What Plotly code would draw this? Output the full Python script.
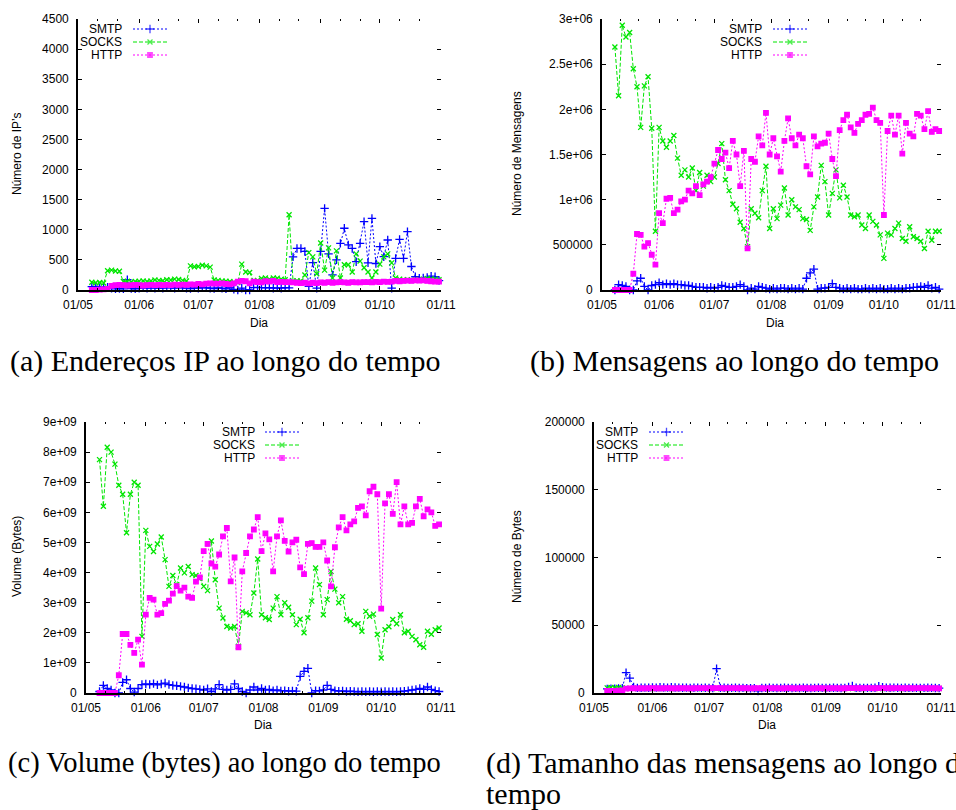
import pandas as pd
import plotly.graph_objects as go

W, H = 956, 810

# Sampling dates: every other day, 8 May - 31 Oct
dias = pd.date_range("2010-05-08", "2010-10-31", freq="2D")

meses = ["2010-05-01", "2010-06-01", "2010-07-01", "2010-08-01",
         "2010-09-01", "2010-10-01", "2010-11-01"]
meses_txt = ["01/05", "01/06", "01/07", "01/08", "01/09", "01/10", "01/11"]
subdiv = ["2010-05-11", "2010-05-21", "2010-06-11", "2010-06-21",
          "2010-07-11", "2010-07-21", "2010-08-11", "2010-08-21",
          "2010-09-11", "2010-09-21", "2010-10-11", "2010-10-21"]

series_nomes = ["SMTP", "SOCKS", "HTTP"]

# (a) number of distinct IPs
ip_smtp = [55, 60, 40, 50, 45, 30, 20, 25, 20, 170,
           25, 20, 30, 35, 30, 40, 30, 35, 30, 40,
           35, 30, 40, 35, 30, 25, 35, 30, 40, 35,
           30, 25, 35, 30, 20, 40, 10, 0, 30, 0,
           0, 40, 45, 40, 35, 40, 30, 35, 30, 40,
           35, 550, 690, 690, 640, 60, 455, 30, 640, 1355,
           600, 250, 500, 775, 1025, 750, 690, 470, 775, 1135,
           450, 1190, 440, 720, 553, 830, 30, 525, 840, 525,
           970, 390, 220, 195, 200, 210, 230, 220, 155]
ip_socks = [130, 120, 125, 115, 320, 330, 315, 310, 140, 145,
            135, 140, 145, 150, 140, 150, 165, 160, 155, 170,
            165, 180, 175, 160, 150, 400, 385, 390, 410, 400,
            380, 165, 160, 150, 145, 140, 130, 125, 430, 300,
            290, 150, 160, 190, 200, 180, 200, 195, 180, 170,
            1250, 150, 155, 150, 250, 620, 550, 270, 780, 330,
            700, 200, 650, 200, 420, 420, 300, 600, 480, 370,
            300, 200, 300, 430, 550, 600, 450, 200, 180, 170,
            170, 165, 170, 175, 180, 190, 185, 180, 170]
ip_http = [0, 0, 5, 10, 20, 70, 80, 85, 80, 75,
           80, 85, 80, 75, 80, 85, 80, 85, 80, 85,
           80, 90, 85, 90, 85, 95, 90, 100, 95, 105,
           110, 105, 105, 110, 100, 95, 110, 140, 150, 145,
           110, 140, 130, 125, 145, 140, 150, 130, 135, 130,
           130, 125, 120, 115, 120, 110, 120, 115, 125, 120,
           130, 120, 125, 130, 125, 120, 130, 125, 125, 130,
           130, 125, 135, 130, 140, 135, 140, 150, 145, 150,
           155, 150, 160, 155, 160, 150, 145, 140, 140]

# (b) messages, in millions
msg_smtp = [0.0, 0.06, 0.05, 0.04, 0.0, 0.0, 0.10, 0.13, 0.04, 0.0,
            0.05, 0.06, 0.08, 0.06, 0.07, 0.06, 0.07, 0.06, 0.06, 0.05,
            0.05, 0.04, 0.03, 0.03, 0.03, 0.02, 0.03, 0.02, 0.03, 0.05,
            0.04, 0.03, 0.03, 0.04, 0.06, 0.04, 0.0, 0.02, 0.01, 0.04,
            0.03, 0.02, 0.01, 0.02, 0.01, 0.02, 0.02, 0.01, 0.02, 0.01,
            0.02, 0.01, 0.13, 0.19, 0.23, 0.01, 0.02, 0.02, 0.03, 0.07,
            0.03, 0.02, 0.01, 0.02, 0.01, 0.02, 0.01, 0.01, 0.02, 0.01,
            0.02, 0.01, 0.02, 0.01, 0.01, 0.02, 0.01, 0.02, 0.01, 0.02,
            0.02, 0.03, 0.03, 0.04, 0.03, 0.05, 0.02, 0.03, 0.01]
msg_socks = [2.69, 2.15, 2.93, 2.80, 2.85, 2.45, 2.25, 1.80, 2.26, 2.36,
             1.79, 0.65, 1.80, 1.65, 1.58, 1.65, 1.71, 1.46, 1.27, 1.33,
             1.25, 1.35, 1.10, 1.30, 1.15, 1.27, 1.20, 1.25, 1.40, 1.62,
             1.22, 1.10, 0.95, 0.90, 0.75, 0.68, 0.48, 0.90, 0.85, 0.80,
             1.10, 1.37, 0.68, 0.90, 0.79, 0.94, 1.13, 0.83, 1.00, 0.92,
             0.89, 0.79, 0.78, 0.66, 0.92, 1.03, 1.38, 1.20, 0.83, 1.07,
             1.33, 1.02, 1.16, 1.03, 0.83, 0.81, 0.83, 0.72, 0.68, 0.83,
             0.76, 0.72, 0.61, 0.35, 0.63, 0.61, 0.68, 0.74, 0.57, 0.54,
             0.70, 0.59, 0.57, 0.54, 0.46, 0.65, 0.55, 0.65, 0.65]
msg_http = [0.0, 0.0, 0.0, 0.0, 0.0, 0.18, 0.62, 0.61, 0.48, 0.52,
            0.39, 0.28, 0.85, 0.74, 1.01, 1.02, 0.85, 0.89, 0.98, 1.00,
            1.10, 1.07, 1.15, 1.05, 1.17, 1.20, 1.25, 1.40, 1.55, 1.45,
            1.52, 1.35, 1.65, 1.50, 1.15, 1.54, 0.46, 1.45, 1.42, 1.70,
            1.60, 1.96, 1.50, 1.68, 1.48, 1.31, 1.65, 1.90, 1.68, 1.60,
            1.72, 1.68, 1.37, 1.28, 1.70, 1.59, 1.62, 1.63, 1.73, 1.45,
            1.26, 1.77, 1.88, 1.94, 1.80, 1.74, 1.84, 1.88, 1.94, 1.95,
            2.02, 1.88, 1.85, 0.83, 1.76, 1.93, 1.72, 1.93, 1.51, 1.85,
            1.73, 1.70, 1.95, 1.93, 1.78, 1.98, 1.75, 1.78, 1.76]

# (c) volume, in units of 1e9 bytes
vol_smtp = [0.05, 0.25, 0.15, 0.10, 0.0, 0.0, 0.35, 0.44, 0.15, 0.03,
            0.15, 0.28, 0.30, 0.28, 0.31, 0.27, 0.30, 0.33, 0.28, 0.25,
            0.24, 0.22, 0.20, 0.17, 0.15, 0.14, 0.12, 0.10, 0.14, 0.05,
            0.14, 0.28, 0.12, 0.10, 0.12, 0.30, 0.15, 0.05, 0.0, 0.10,
            0.20, 0.10, 0.15, 0.10, 0.12, 0.08, 0.10, 0.07, 0.08, 0.06,
            0.07, 0.06, 0.55, 0.72, 0.82, 0.0, 0.08, 0.07, 0.10, 0.25,
            0.12, 0.08, 0.06, 0.07, 0.05, 0.06, 0.05, 0.04, 0.05, 0.04,
            0.05, 0.04, 0.05, 0.04, 0.05, 0.04, 0.05, 0.04, 0.05, 0.06,
            0.08, 0.10, 0.12, 0.15, 0.12, 0.20, 0.12, 0.08, 0.05]
vol_socks = [7.75, 6.20, 8.16, 8.00, 7.60, 6.90, 6.60, 5.32, 6.60, 7.00,
             6.90, 1.88, 5.40, 4.87, 4.70, 4.95, 5.18, 4.43, 3.54, 3.90,
             3.60, 4.15, 3.99, 4.20, 3.93, 3.90, 3.80, 3.54, 3.40, 5.05,
             3.76, 2.82, 2.49, 2.21, 2.16, 2.21, 1.55, 2.71, 2.66, 2.60,
             3.32, 4.45, 2.60, 2.50, 2.44, 2.82, 3.20, 2.60, 3.00, 2.85,
             2.60, 2.27, 2.45, 2.00, 2.50, 3.05, 4.15, 3.60, 2.60, 3.10,
             4.04, 3.45, 3.00, 3.20, 2.45, 2.40, 2.27, 2.30, 2.05, 2.71,
             2.55, 2.62, 1.94, 1.16, 2.10, 2.20, 2.44, 2.30, 2.60, 2.00,
             2.05, 1.88, 1.77, 1.60, 1.52, 2.05, 1.95, 2.10, 2.16]
vol_http = [0.0, 0.0, 0.0, 0.0, 0.0, 0.59, 1.96, 1.96, 1.60, 1.33,
            1.77, 0.94, 2.60, 3.16, 3.10, 2.60, 2.65, 2.96, 3.07, 3.30,
            3.55, 3.40, 3.50, 3.20, 3.16, 3.70, 3.84, 4.71, 4.95, 4.30,
            4.20, 4.60, 5.20, 5.48, 3.71, 4.50, 1.52, 4.04, 4.65, 5.20,
            5.43, 5.84, 4.71, 5.30, 5.10, 4.04, 5.20, 5.73, 5.05, 4.70,
            5.00, 5.09, 4.17, 3.95, 4.95, 4.98, 4.85, 4.85, 5.00, 4.40,
            3.54, 4.84, 5.50, 5.84, 5.40, 5.60, 5.70, 6.15, 6.20, 5.90,
            6.70, 6.85, 6.60, 2.80, 6.30, 6.60, 5.95, 7.00, 5.60, 6.20,
            5.60, 5.65, 6.20, 6.45, 5.87, 6.10, 6.00, 5.55, 5.60]

# (d) mean message size, bytes
tam_smtp = [3000, 3200, 3100, 3300, 3500, 15000, 11000, 4500, 3800, 3900,
            4000, 3900, 4100, 4000, 4200, 4100, 4000, 4200, 4100, 4000,
            3900, 4000, 3800, 3900, 4000, 3800, 3900, 3800, 3700, 18000,
            3800, 3900, 3700, 3800, 3900, 3700, 3800, 3600, 3500, 3600,
            1500, 3700, 3800, 3900, 3800, 3700, 3800, 3900, 3800, 3700,
            3800, 3700, 3900, 3800, 3700, 3800, 3900, 3800, 3700, 3800,
            3900, 3800, 3700, 3800, 4500, 5200, 3900, 3800, 3700, 3800,
            3800, 3900, 5000, 4200, 4000, 3900, 4000, 3900, 3800, 3900,
            3800, 3900, 3800, 3700, 3800, 3900, 3800, 3700, 3600]
tam_socks = [3800, 4100, 3900, 4000, 3800, 3400, 3300, 3350, 3300, 3350,
             3300, 3250, 3300, 3350, 3300, 3350, 3300, 3350, 3300, 3400,
             3350, 3300, 3350, 3400, 3350, 3300, 3350, 3400, 3350, 3300,
             3350, 3300, 3350, 3300, 3350, 3400, 3300, 3350, 3300, 3350,
             3300, 3350, 3400, 3350, 3300, 3350, 3300, 3350, 3400, 3350,
             3300, 3350, 3300, 3350, 3300, 3400, 3350, 3300, 3350, 3300,
             3350, 3300, 3350, 3400, 3350, 3300, 3350, 3300, 3350, 3400,
             3350, 3300, 3350, 3300, 3350, 3300, 3350, 3400, 3350, 3300,
             3350, 3300, 3350, 3400, 3350, 3300, 3350, 3300, 3350]
tam_http = [1500, 1600, 1500, 1700, 2000, 3300, 3400, 3500, 3400, 3500,
            3450, 3500, 3550, 3500, 3450, 3500, 3550, 3500, 3450, 3500,
            3550, 3500, 3450, 3500, 3550, 3600, 3550, 3500, 3550, 3600,
            3550, 3500, 3550, 3600, 3550, 3500, 3550, 3500, 3450, 3500,
            3550, 3500, 3450, 3500, 3550, 3500, 3450, 3500, 3550, 3500,
            3450, 3500, 3550, 3500, 3450, 3500, 3550, 3500, 3450, 3500,
            3550, 3500, 3450, 3500, 3550, 3600, 3550, 3500, 3550, 3600,
            3550, 3500, 3550, 3600, 3550, 3500, 3550, 3600, 3550, 3500,
            3550, 3500, 3550, 3600, 3550, 3500, 3550, 3500, 3450]

estilo = {
    "SMTP": dict(color="#0000ff", dash="2px,2px", symbol="cross-thin", size=6),
    "SOCKS": dict(color="#00e600", dash="4px,2px", symbol="x-thin", size=5),
    "HTTP": dict(color="#ff00ff", dash="2px,2px", symbol="square", size=4.5),
}

paineis = [
    dict(px=(78, 441), py=(19, 290), fator=1,
         dados=(ip_smtp, ip_socks, ip_http),
         yvals=[0, 500, 1000, 1500, 2000, 2500, 3000, 3500, 4000, 4500],
         ytxt=["0", "500", "1000", "1500", "2000", "2500", "3000", "3500", "4000", "4500"],
         ytitulo="Número de IP’s", ytit_xy=(17, 154), dia_xy=(259, 323),
         chave=(124, 133, 167, [29, 42, 55])),
    dict(px=(602, 941), py=(19, 290), fator=1e6,
         dados=(msg_smtp, msg_socks, msg_http),
         yvals=[0, 5e5, 1e6, 1.5e6, 2e6, 2.5e6, 3e6],
         ytxt=["0", "500000", "1e+06", "1.5e+06", "2e+06", "2.5e+06", "3e+06"],
         ytitulo="Número de Mensagens", ytit_xy=(517, 154), dia_xy=(775, 323),
         chave=(764, 773, 807, [29, 42, 55])),
    dict(px=(86, 441), py=(422, 693), fator=1e9,
         dados=(vol_smtp, vol_socks, vol_http),
         yvals=[i * 1e9 for i in range(10)],
         ytxt=["0"] + [f"{i}e+09" for i in range(1, 10)],
         ytitulo="Volume (Bytes)", ytit_xy=(17, 557), dia_xy=(263, 725),
         chave=(257, 265, 299, [432, 445, 458])),
    dict(px=(594, 941), py=(422, 693), fator=1,
         dados=(tam_smtp, tam_socks, tam_http),
         yvals=[0, 50000, 100000, 150000, 200000],
         ytxt=["0", "50000", "100000", "150000", "200000"],
         ytitulo="Número de Bytes", ytit_xy=(517, 557), dia_xy=(767, 725),
         chave=(640, 649, 684, [432, 445, 458])),
]

# sub-figure captions: text, left x, centre y, font size
legendas = [
    ("(a) Endereços IP ao longo do tempo", 8, 361, 30),
    ("(b) Mensagens ao longo do tempo", 528, 361, 30),
    ("(c) Volume (bytes) ao longo do tempo", 6, 763, 28.5),
    ("(d) Tamanho das mensagens ao longo do", 484, 763, 30),
    ("tempo", 484, 793, 30),
]

fonte = dict(family="Liberation Sans, Arial, sans-serif", size=12, color="black")
xrange_ = ["2010-05-01", "2010-11-01"]


def sfx(n):
    return "" if n == 1 else str(n)


fig = go.Figure()
layout = dict(width=W, height=H,
              margin=dict(l=0, r=0, t=0, b=0, pad=0, autoexpand=False),
              paper_bgcolor="white", plot_bgcolor="rgba(0,0,0,0)",
              showlegend=False, font=fonte)
annots = []

for i, p in enumerate(paineis, start=1):
    xd = [p["px"][0] / W, p["px"][1] / W]
    yd = [1 - p["py"][1] / H, 1 - p["py"][0] / H]
    yr = [p["yvals"][0], p["yvals"][-1]]
    xa, ya = "x" + sfx(i), "y" + sfx(i)

    layout["xaxis" + sfx(i)] = dict(
        type="date", domain=xd, anchor=ya, range=xrange_, tickmode="array",
        tickvals=meses, ticktext=meses_txt, ticks="inside", ticklen=4,
        tickcolor="black", showline=True, linecolor="black", linewidth=1.6,
        showgrid=False, zeroline=False, tickfont=fonte, ticklabelstandoff=3,
        automargin=False,
        minor=dict(tickmode="array", tickvals=subdiv, ticks="inside",
                   ticklen=2, tickcolor="black", showgrid=False))
    layout["yaxis" + sfx(i)] = dict(
        type="linear", domain=yd, anchor=xa, range=yr, tickmode="array",
        tickvals=p["yvals"], ticktext=p["ytxt"], ticks="inside", ticklen=4,
        tickcolor="black", showline=True, linecolor="black", linewidth=1.6,
        showgrid=False, zeroline=False, tickfont=fonte, ticklabelstandoff=5,
        automargin=False)

    # mirrored tick marks on the top and right edges (no border line)
    layout["xaxis" + str(i + 4)] = dict(
        type="date", overlaying=xa, anchor=ya, side="top", range=xrange_,
        tickmode="array", tickvals=meses, ticks="inside", ticklen=4,
        tickcolor="black", showticklabels=False, showline=False,
        showgrid=False, zeroline=False, automargin=False,
        minor=dict(tickmode="array", tickvals=subdiv, ticks="inside",
                   ticklen=2, tickcolor="black", showgrid=False))
    layout["yaxis" + str(i + 4)] = dict(
        type="linear", overlaying=ya, anchor=xa, side="right", range=yr,
        tickmode="array", tickvals=p["yvals"], ticks="inside", ticklen=4,
        tickcolor="black", showticklabels=False, showline=False,
        showgrid=False, zeroline=False, automargin=False)
    fig.add_trace(go.Scatter(x=[None], y=[None], xaxis="x" + str(i + 4),
                             yaxis=ya, hoverinfo="skip"))
    fig.add_trace(go.Scatter(x=[None], y=[None], xaxis=xa,
                             yaxis="y" + str(i + 4), hoverinfo="skip"))

    for nome, vals in zip(series_nomes, p["dados"]):
        e = estilo[nome]
        fig.add_trace(go.Scatter(
            x=dias, y=[v * p["fator"] for v in vals], name=nome,
            xaxis=xa, yaxis=ya, mode="lines+markers", cliponaxis=False,
            line=dict(color=e["color"], width=1, dash=e["dash"]),
            marker=dict(symbol=e["symbol"], size=e["size"], color=e["color"],
                        line=dict(color=e["color"], width=1.3))))

    # key: label right-aligned, then a sample line with its marker
    xr, x0, x1, ys = p["chave"]
    for nome, yk in zip(series_nomes, ys):
        e = estilo[nome]
        annots.append(dict(text=nome, x=xr / W, y=1 - yk / H, xref="paper",
                           yref="paper", xanchor="right", yanchor="middle",
                           showarrow=False, font=fonte))
        fig.add_trace(go.Scatter(
            x=[x0, (x0 + x1) / 2, x1], y=[yk, yk, yk], xaxis="x9", yaxis="y9",
            mode="lines+markers", cliponaxis=False, hoverinfo="skip",
            line=dict(color=e["color"], width=1, dash=e["dash"]),
            marker=dict(symbol=e["symbol"], size=[0, e["size"], 0],
                        color=e["color"],
                        line=dict(color=e["color"], width=1.3))))

    tx, ty = p["ytit_xy"]
    annots.append(dict(text=p["ytitulo"], x=tx / W, y=1 - ty / H,
                       xref="paper", yref="paper", textangle=-90,
                       xanchor="center", yanchor="middle", showarrow=False,
                       font=fonte))
    dx, dy = p["dia_xy"]
    annots.append(dict(text="Dia", x=dx / W, y=1 - dy / H, xref="paper",
                       yref="paper", xanchor="center", yanchor="middle",
                       showarrow=False, font=fonte))

layout["xaxis9"] = dict(type="linear", domain=[0, 1], range=[0, W],
                        visible=False, anchor="y9", automargin=False)
layout["yaxis9"] = dict(type="linear", domain=[0, 1], range=[H, 0],
                        visible=False, anchor="x9", automargin=False)

for txt, lx, ly, tam in legendas:
    annots.append(dict(text=txt, x=lx / W, y=1 - ly / H, xref="paper",
                       yref="paper", xanchor="left", yanchor="middle",
                       showarrow=False,
                       font=dict(family="Liberation Serif, Times New Roman, serif",
                                 size=tam, color="black")))

layout["annotations"] = annots
fig.update_layout(**layout)
fig.write_html("out.html")
